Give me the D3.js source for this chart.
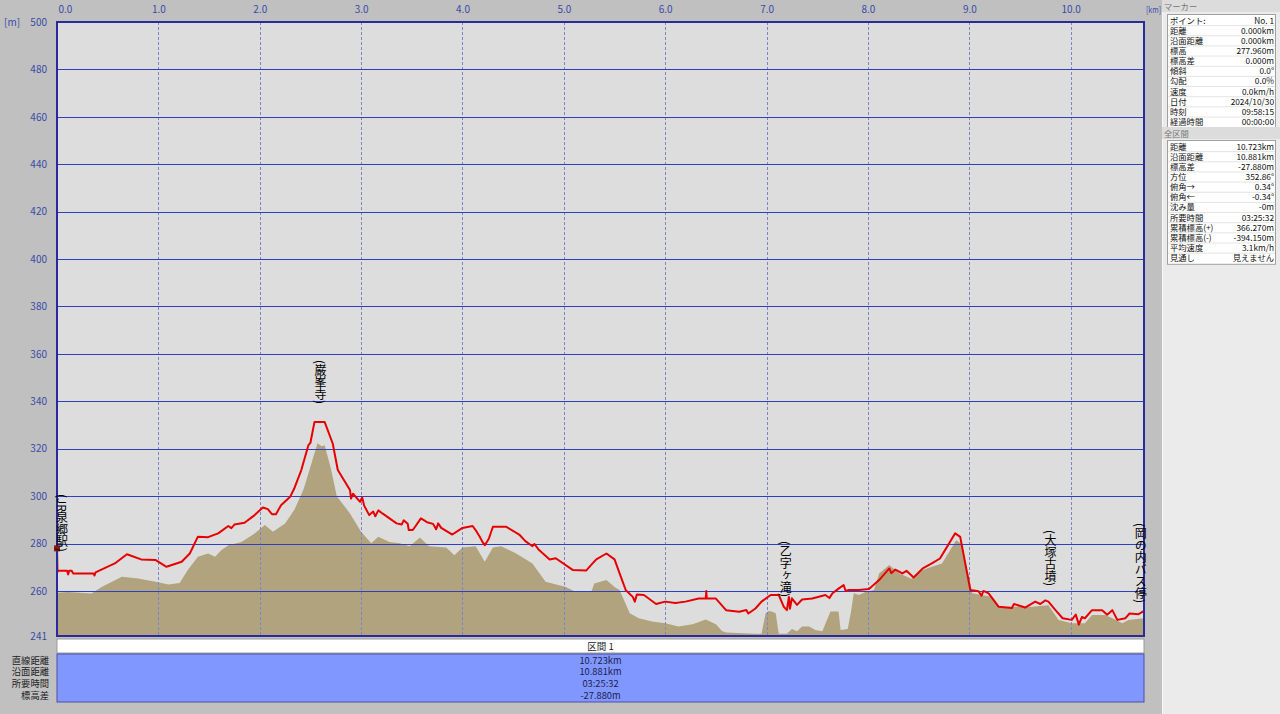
<!DOCTYPE html>
<html>
<head>
<meta charset="utf-8">
<script src="https://cdn.jsdelivr.net/npm/d3@7"></script>
<style>
  html, body { margin: 0; padding: 0; background: #c0c0c0; }
  #wrap { position: relative; width: 1280px; height: 714px; overflow: hidden; }
  svg { display: block; }
  text { font-family: "Noto Sans CJK JP", "DejaVu Sans", sans-serif; }
  .place {
    position: absolute;
    writing-mode: vertical-rl;
    font-family: "Noto Sans CJK JP", sans-serif;
    font-size: 12px;
    line-height: 13px;
    color: #000;
    white-space: nowrap;
  }
</style>
</head>
<body>
<div id="wrap">
<svg id="chart" width="1280" height="714"></svg>
</div>
<script>
// ---------------- DATA ----------------
// GPS track altitude (red line): distance km, elevation m
const trackKm = [0.000,0.005,0.013,0.10,0.11,0.12,0.145,0.16,0.36,0.37,0.38,0.57,0.69,0.83,0.97,1.08,1.23,1.31,1.39,1.49,1.59,1.69,1.72,1.75,1.85,1.95,2.03,2.08,2.12,2.16,2.21,2.30,2.34,2.41,2.48,2.50,2.54,2.64,2.72,2.77,2.89,2.90,2.92,2.99,3.01,3.03,3.08,3.12,3.14,3.17,3.21,3.35,3.40,3.42,3.46,3.47,3.51,3.59,3.65,3.71,3.74,3.76,3.79,3.90,4.00,4.10,4.14,4.17,4.20,4.22,4.26,4.30,4.43,4.56,4.62,4.67,4.69,4.71,4.75,4.86,4.92,5.09,5.22,5.27,5.32,5.42,5.50,5.55,5.61,5.68,5.70,5.72,5.79,5.91,6.00,6.10,6.20,6.33,6.40,6.405,6.41,6.50,6.60,6.73,6.80,6.82,6.89,6.95,7.04,7.12,7.17,7.20,7.22,7.23,7.25,7.30,7.35,7.45,7.58,7.62,7.65,7.71,7.76,7.78,7.81,7.91,8.01,8.11,8.21,8.23,8.27,8.34,8.38,8.45,8.54,8.63,8.71,8.78,8.86,8.91,8.96,9.01,9.09,9.12,9.14,9.19,9.29,9.42,9.44,9.55,9.65,9.70,9.75,9.78,9.85,9.92,10.01,10.05,10.08,10.11,10.14,10.21,10.31,10.36,10.41,10.46,10.54,10.58,10.67,10.72];
const trackEle = [277.96,268.0,268.5,268.5,267.0,268.5,268.5,267.4,267.4,266.5,267.8,271.6,275.5,273.3,273.1,270.2,272.3,275.8,282.9,282.7,284.3,287.4,286.5,288.0,288.8,292.0,295.2,294.5,292.4,292.4,296.2,299.7,303.2,311.0,321.5,322.5,331.3,331.3,322.2,311.0,302.6,299.0,301.0,297.6,299.5,296.0,292.0,293.5,291.5,294.0,292.7,288.5,288.0,289.8,288.3,285.7,285.7,290.6,289.0,288.3,286.0,288.5,286.6,283.8,286.6,287.4,285.0,282.9,280.5,279.3,282.0,287.1,287.1,283.8,281.0,279.5,278.9,279.8,277.5,273.3,273.8,268.8,268.6,271.0,273.3,275.8,273.3,267.4,260.4,257.5,255.5,258.5,258.3,254.5,255.5,254.9,255.5,256.8,256.8,260.0,256.8,256.8,251.9,251.2,252.0,250.5,252.6,255.5,258.3,258.3,253.3,251.9,257.5,252.5,256.9,254.1,256.4,256.8,258.3,257.0,259.0,261.0,262.5,260.0,260.4,260.4,260.8,264.6,269.5,267.5,269.0,267.4,268.5,265.7,269.5,271.6,273.7,278.6,284.3,282.8,271.6,260.4,259.9,258.0,260.0,259.0,253.3,252.8,254.5,253.0,255.5,254.5,256.0,255.5,251.9,248.5,247.8,250.0,245.8,249.0,248.5,251.9,251.9,250.0,251.9,247.8,248.5,250.5,250.2,251.5];

// Ground elevation (tan area): distance km, elevation m
const groundKm = [0.00,0.11,0.34,0.44,0.64,0.80,0.97,1.10,1.21,1.29,1.39,1.49,1.56,1.62,1.69,1.82,1.95,2.05,2.13,2.25,2.34,2.43,2.51,2.57,2.61,2.64,2.70,2.76,2.89,3.00,3.10,3.17,3.28,3.38,3.48,3.58,3.67,3.84,3.92,4.00,4.13,4.22,4.30,4.38,4.53,4.69,4.82,5.02,5.12,5.27,5.30,5.42,5.50,5.55,5.65,5.74,5.87,6.00,6.13,6.27,6.40,6.50,6.56,6.60,6.89,6.95,6.99,7.02,7.05,7.09,7.12,7.20,7.25,7.30,7.35,7.42,7.48,7.55,7.63,7.71,7.73,7.80,7.83,7.86,7.91,7.98,8.06,8.11,8.21,8.31,8.43,8.54,8.63,8.73,8.81,8.87,8.92,8.98,9.03,9.23,9.29,9.62,9.78,9.88,10.01,10.14,10.21,10.34,10.41,10.51,10.57,10.72];
const groundEle = [259.2,259.6,258.9,261.7,266.0,265.3,263.9,262.7,263.4,268.8,274.4,275.8,274.4,277.2,279.3,280.7,284.2,287.8,285.0,288.5,294.1,302.6,313.8,322.3,321.0,321.5,312.0,300.0,292.7,285.0,280.1,282.9,280.7,280.1,278.9,282.5,278.9,278.3,275.1,278.3,278.9,272.3,278.3,278.9,275.8,271.6,263.9,261.7,259.6,259.6,263.1,264.6,261.7,260.4,250.6,248.5,247.1,246.4,245.0,246.0,248.0,246.0,243.1,242.5,242.0,242.0,250.6,251.5,251.3,250.6,242.0,242.0,244.0,243.0,245.0,245.0,243.5,243.0,251.3,251.3,243.5,244.0,250.6,259.0,258.3,259.7,260.4,267.4,270.9,267.4,265.2,268.8,270.2,271.6,277.2,281.4,280.0,268.8,259.0,257.5,253.3,253.3,254.0,247.8,246.4,246.4,249.9,249.9,248.5,246.4,247.8,248.5];

// Place labels (vertical text): km, elevation of the top of the label
const placeNames = ["(JR泉郷駅)", "(巌峯寺)", "(乙字ヶ滝)", "(大塚古墳)", "(岡の内バス停)"];
const placeKm = [0.05, 2.60, 7.19, 9.80, 10.69];
const placeTop = [301.0, 357.4, 281.0, 285.7, 288.6];

// Axis ticks
const yTicks = [500, 480, 460, 440, 420, 400, 380, 360, 340, 320, 300, 280, 260, 241];
const xTicks = [0, 1, 2, 3, 4, 5, 6, 7, 8, 9, 10];
const totalKm = 10.723;

// Right panel: marker info
const markerLabels = ["ポイント:", "距離", "沿面距離", "標高", "標高差", "傾斜", "勾配", "速度", "日付", "時刻", "経過時間"];
const markerValues = ["No. 1", "0.000km", "0.000km", "277.960m", "0.000m", "0.0°", "0.0%", "0.0km/h", "2024/10/30", "09:58:15", "00:00:00"];
// Right panel: whole section info
const totalLabels = ["距離", "沿面距離", "標高差", "方位", "俯角→", "俯角←", "沈み量", "所要時間", "累積標高(+)", "累積標高(-)", "平均速度", "見通し"];
const totalValues = ["10.723km", "10.881km", "-27.880m", "352.86°", "0.34°", "-0.34°", "-0m", "03:25:32", "366.270m", "-394.150m", "3.1km/h", "見えません"];

// Bottom table
const sectionName = "区間 1";
const sectionLabels = ["直線距離", "沿面距離", "所要時間", "標高差"];
const sectionValues = ["10.723km", "10.881km", "03:25:32", "-27.880m"];

// ---------------- DRAW ----------------
const svg = d3.select("#chart");
const L = 57, R = 1144, T = 22, B = 636;

const x = d3.scaleLinear().domain([0, totalKm]).range([L, R]);
const y = d3.scaleLinear().domain([241, 500]).range([B, T]);

svg.append("rect").attr("x", 0).attr("y", 0).attr("width", 1280).attr("height", 714).attr("fill", "#c0c0c0");

// plot background
svg.append("rect").attr("x", L).attr("y", T).attr("width", R - L).attr("height", B - T).attr("fill", "#dddddd");

// ground area
const ground = groundKm.map((k, i) => ({ k, e: groundEle[i] }));
svg.append("path")
  .datum(ground)
  .attr("fill", "#b0a37d")
  .attr("d", d3.area().x(d => x(d.k)).y0(y(241)).y1(d => y(d.e)));

// vertical dashed grid
svg.append("g").selectAll("line").data(xTicks.filter(d => d > 0)).join("line")
  .attr("x1", d => Math.round(x(d)) + 0.5).attr("x2", d => Math.round(x(d)) + 0.5)
  .attr("y1", T).attr("y2", B)
  .attr("stroke", "#7c84c8").attr("stroke-width", 1).attr("stroke-dasharray", "3,2");

// horizontal grid
svg.append("g").selectAll("line").data(yTicks.filter(d => d !== 241 && d !== 500)).join("line")
  .attr("x1", L).attr("x2", R)
  .attr("y1", d => Math.round(y(d)) + 0.5).attr("y2", d => Math.round(y(d)) + 0.5)
  .attr("stroke", "#2f3fc0").attr("stroke-width", 1);

// track line
const track = trackKm.map((k, i) => ({ k, e: trackEle[i] }));
svg.append("path")
  .datum(track)
  .attr("fill", "none")
  .attr("stroke", "#e80000")
  .attr("stroke-width", 2)
  .attr("stroke-linejoin", "round")
  .attr("d", d3.line().x(d => x(d.k)).y(d => y(d.e)));

// plot border
svg.append("rect").attr("x", L).attr("y", T).attr("width", R - L).attr("height", B - T)
  .attr("fill", "none").attr("stroke", "#2a2a9c").attr("stroke-width", 2);

// start marker
svg.append("rect").attr("x", x(0) - 3).attr("y", y(trackEle[0]) - 3).attr("width", 6).attr("height", 6)
  .attr("fill", "#8a1a10");

// left axis
const yAxis = svg.append("g").attr("transform", `translate(${L - 7},0)`)
  .call(d3.axisLeft(y).tickValues(yTicks).tickSize(0).tickFormat(d3.format("d")));
yAxis.select(".domain").remove();
yAxis.selectAll("text").attr("fill", "#3a4aa8").attr("font-size", 10)
  .attr("font-family", "'Noto Sans CJK JP', sans-serif");
svg.append("text").attr("x", 4).attr("y", 26).attr("fill", "#3a4aa8").attr("font-size", 10).text("[m]");

// top axis
const xAxis = svg.append("g").attr("transform", `translate(0,${T - 6})`)
  .call(d3.axisTop(x).tickValues(xTicks).tickSize(0).tickFormat(d3.format(".1f")));
xAxis.select(".domain").remove();
xAxis.selectAll("text").attr("fill", "#3a4aa8").attr("font-size", 10)
  .attr("font-family", "'Noto Sans CJK JP', sans-serif");
xAxis.selectAll(".tick").filter(d => d === 0).select("text").attr("text-anchor", "start").attr("dx", 1);
svg.append("text").attr("x", 1146).attr("y", 13).attr("fill", "#3a4aa8").attr("font-size", 9)
  .attr("textLength", 15).attr("lengthAdjust", "spacingAndGlyphs").text("[km]");

// vertical place labels (HTML overlay with vertical writing mode)
d3.select("#wrap").selectAll("div.place").data(placeNames).join("div")
  .attr("class", "place")
  .style("left", (d, i) => (x(placeKm[i]) - 6.5) + "px")
  .style("top", (d, i) => y(placeTop[i]) + "px")
  .text(d => d);

// bottom section table
svg.append("rect").attr("x", L).attr("y", 639).attr("width", R - L).attr("height", 14)
  .attr("fill", "#ffffff").attr("stroke", "#9a9a9a").attr("stroke-width", 1);
svg.append("text").attr("x", (L + R) / 2).attr("y", 650).attr("text-anchor", "middle")
  .attr("font-size", 9.5).attr("fill", "#222").text(sectionName);
svg.append("rect").attr("x", L).attr("y", 654).attr("width", R - L).attr("height", 48)
  .attr("fill", "#8097ff").attr("stroke", "#4b4fa8").attr("stroke-width", 1);
svg.append("g").selectAll("text").data(sectionValues).join("text")
  .attr("x", (L + R) / 2).attr("y", (d, i) => 663.5 + i * 11.8)
  .attr("text-anchor", "middle").attr("font-size", 9.3).attr("fill", "#1c1c50").text(d => d);
svg.append("g").selectAll("text").data(sectionLabels).join("text")
  .attr("x", 49).attr("y", (d, i) => 663.5 + i * 11.8)
  .attr("text-anchor", "end").attr("font-size", 9.3).attr("fill", "#222").text(d => d);

// right panel
const P = 1162;
svg.append("rect").attr("x", P).attr("y", 0).attr("width", 1280 - P).attr("height", 714).attr("fill", "#ebebeb");
svg.append("line").attr("x1", P + 0.5).attr("x2", P + 0.5).attr("y1", 0).attr("y2", 714).attr("stroke", "#f8f8f8");

function infoTable(title, titleY, boxY, labels, values) {
  svg.append("rect").attr("x", P).attr("y", titleY).attr("width", 1280 - P).attr("height", 12).attr("fill", "#dcdcdc");
  svg.append("text").attr("x", P + 2).attr("y", titleY + 10).attr("font-size", 8.3).attr("fill", "#777").text(title);
  const rowH = 10.15;
  const h = labels.length * rowH + 2;
  svg.append("rect").attr("x", 1167.5).attr("y", boxY + 0.5).attr("width", 108).attr("height", h)
    .attr("fill", "#ffffff").attr("stroke", "#a0a0a0");
  const g = svg.append("g");
  g.selectAll("line").data(labels.slice(1)).join("line")
    .attr("x1", 1168).attr("x2", 1275)
    .attr("y1", (d, i) => boxY + 1.5 + (i + 1) * rowH).attr("y2", (d, i) => boxY + 1.5 + (i + 1) * rowH)
    .attr("stroke", "#e4e4e4");
  g.selectAll("text.l").data(labels).join("text").attr("class", "l")
    .attr("x", 1170).attr("y", (d, i) => boxY + 9.5 + i * rowH)
    .attr("font-size", 8.3).attr("fill", "#111").text(d => d);
  g.selectAll("text.v").data(values).join("text").attr("class", "v")
    .attr("x", 1274).attr("y", (d, i) => boxY + 9.5 + i * rowH)
    .attr("text-anchor", "end").attr("font-size", 8.3).attr("fill", "#111").text(d => d);
}
infoTable("マーカー", 0, 14, markerLabels, markerValues);
infoTable("全区間", 127, 140, totalLabels, totalValues);
</script>
</body>
</html>
